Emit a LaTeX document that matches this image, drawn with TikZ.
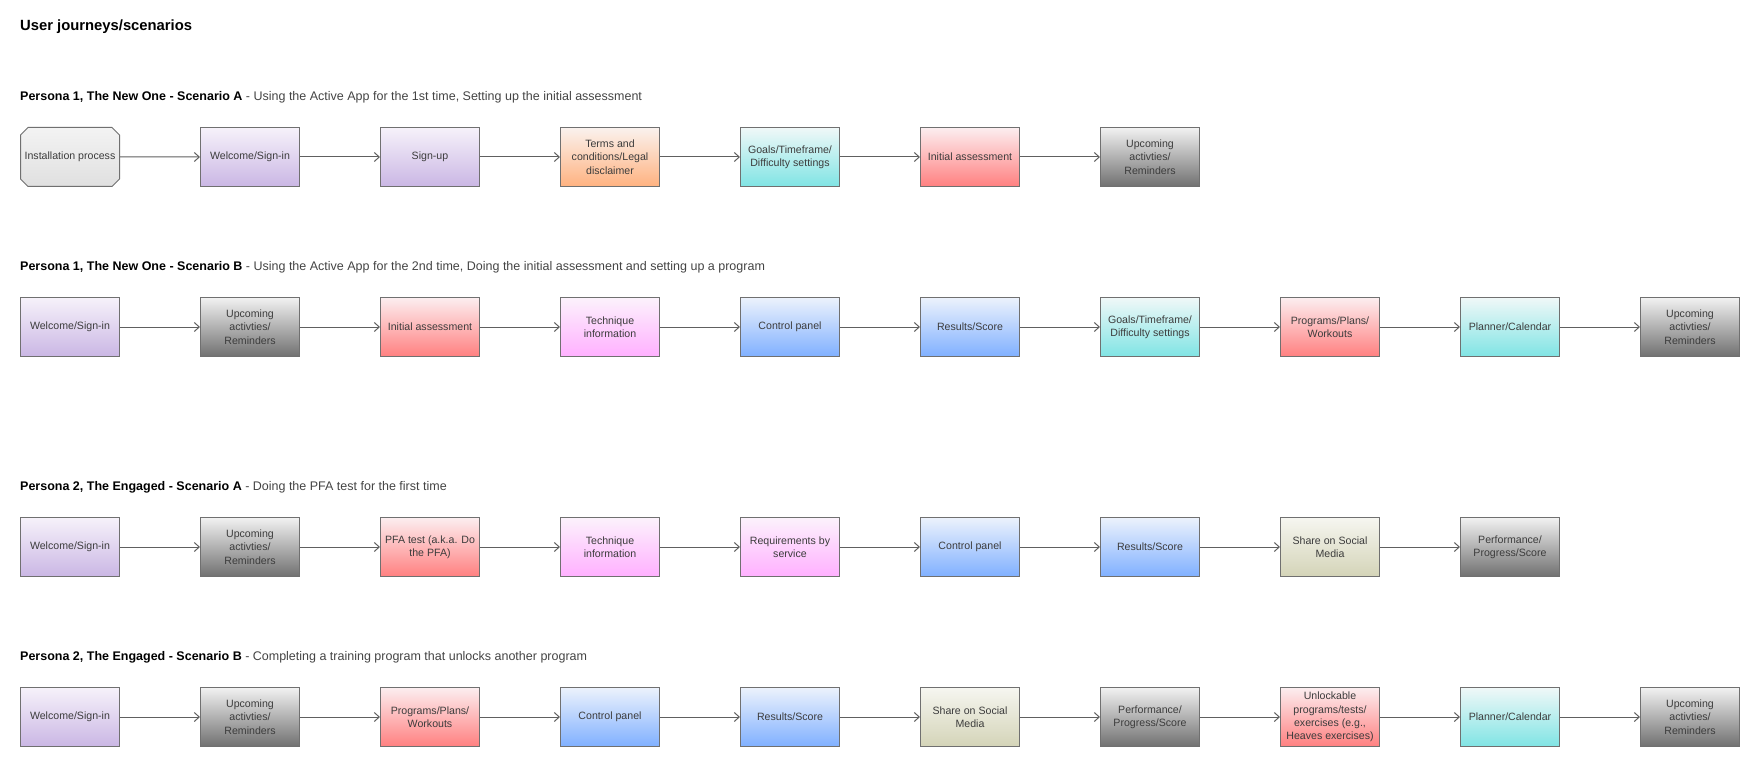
\documentclass[tikz,border=0pt]{standalone}
\usepackage{fontspec}
\setmainfont{Liberation Sans}
\usetikzlibrary{positioning,arrows.meta,shapes.misc}

\definecolor{edge}{RGB}{112,112,112}
\definecolor{txt}{RGB}{60,60,60}
\definecolor{wire}{RGB}{96,96,96}

\begin{document}
\begin{tikzpicture}[
  x=1pt, y=-1pt,
  font=\fontsize{10.6}{13.3}\selectfont,
  every node/.style={align=center, text=txt},
  box/.style  ={rectangle, draw=edge, line width=1pt,
                minimum width=99pt, minimum height=59pt, inner sep=2pt},
  octa/.style ={box, chamfered rectangle, chamfered rectangle xsep=4pt,
                inner xsep=0pt,
                top color={rgb,255:red,243;green,243;blue,243},
                bottom color={rgb,255:red,224;green,224;blue,224}},
  lav/.style  ={box, top color={rgb,255:red,246;green,242;blue,250},
                bottom color={rgb,255:red,202;green,182;blue,228}},
  peach/.style={box, top color={rgb,255:red,250;green,242;blue,238},
                bottom color={rgb,255:red,255;green,178;blue,128}},
  aqua/.style ={box, top color={rgb,255:red,240;green,248;blue,248},
                bottom color={rgb,255:red,128;green,228;blue,228}},
  rose/.style ={box, top color={rgb,255:red,252;green,238;blue,240},
                bottom color={rgb,255:red,255;green,128;blue,128}},
  slate/.style={box, top color={rgb,255:red,242;green,242;blue,242},
                bottom color={rgb,255:red,112;green,112;blue,112}},
  lilac/.style={box, top color={rgb,255:red,252;green,242;blue,252},
                bottom color={rgb,255:red,255;green,176;blue,255}},
  sky/.style  ={box, top color={rgb,255:red,236;green,242;blue,252},
                bottom color={rgb,255:red,128;green,176;blue,255}},
  sand/.style ={box, top color={rgb,255:red,246;green,246;blue,240},
                bottom color={rgb,255:red,212;green,212;blue,184}},
  head/.style ={inner sep=0pt, text={rgb,255:red,68;green,68;blue,68},
                font=\fontsize{12.5}{14}\selectfont},
  arrow/.style={-{Straight Barb[length=5pt,width=9pt]}, line width=1pt, draw=wire},
]
\useasboundingbox (0,0) rectangle (1760,767);

\node[inner sep=0pt, anchor=west, text=black, font=\fontsize{14.8}{16}\bfseries]
     (title) at (20,27) {User journeys/scenarios};

% Persona 1 - Scenario A
\node[octa]                  (a1) at (70,157) {Installation process};
\node[lav,   right=80pt of a1] (a2) {Welcome/Sign-in};
\node[lav,   right=80pt of a2] (a3) {Sign-up};
\node[peach, right=80pt of a3] (a4) {Terms and\\conditions/Legal\\disclaimer};
\node[aqua,  right=80pt of a4] (a5) {Goals/Timeframe/\\Difficulty settings};
\node[rose,  right=80pt of a5] (a6) {Initial assessment};
\node[slate, right=80pt of a6] (a7) {Upcoming\\activties/\\Reminders};
\coordinate (a0) at (a1.north -| a1.west);

% Persona 1 - Scenario B
\node[lav,   below=110pt of a1] (b1) {Welcome/Sign-in};
\node[slate, right=80pt of b1] (b2) {Upcoming\\activties/\\Reminders};
\node[rose,  right=80pt of b2] (b3) {Initial assessment};
\node[lilac, right=80pt of b3] (b4) {Technique\\information};
\node[sky,   right=80pt of b4] (b5) {Control panel};
\node[sky,   right=80pt of b5] (b6) {Results/Score};
\node[aqua,  right=80pt of b6] (b7) {Goals/Timeframe/\\Difficulty settings};
\node[rose,  right=80pt of b7] (b8) {Programs/Plans/\\Workouts};
\node[aqua,  right=80pt of b8] (b9) {Planner/Calendar};
\node[slate, right=80pt of b9] (b10) {Upcoming\\activties/\\Reminders};

% Persona 2 - Scenario A
\node[lav,   below=160pt of b1] (c1) {Welcome/Sign-in};
\node[slate, right=80pt of c1] (c2) {Upcoming\\activties/\\Reminders};
\node[rose,  right=80pt of c2] (c3) {PFA test (a.k.a. Do\\the PFA)};
\node[lilac, right=80pt of c3] (c4) {Technique\\information};
\node[lilac, right=80pt of c4] (c5) {Requirements by\\service};
\node[sky,   right=80pt of c5] (c6) {Control panel};
\node[sky,   right=80pt of c6] (c7) {Results/Score};
\node[sand,  right=80pt of c7] (c8) {Share on Social\\Media};
\node[slate, right=80pt of c8] (c9) {Performance/\\Progress/Score};

% Persona 2 - Scenario B
\node[lav,   below=110pt of c1] (d1) {Welcome/Sign-in};
\node[slate, right=80pt of d1] (d2) {Upcoming\\activties/\\Reminders};
\node[rose,  right=80pt of d2] (d3) {Programs/Plans/\\Workouts};
\node[sky,   right=80pt of d3] (d4) {Control panel};
\node[sky,   right=80pt of d4] (d5) {Results/Score};
\node[sand,  right=80pt of d5] (d6) {Share on Social\\Media};
\node[slate, right=80pt of d6] (d7) {Performance/\\Progress/Score};
\node[rose,  right=80pt of d7] (d8) {Unlockable\\programs/tests/\\exercises (e.g.,\\Heaves exercises)};
\node[aqua,  right=80pt of d8] (d9) {Planner/Calendar};
\node[slate, right=80pt of d9] (d10) {Upcoming\\activties/\\Reminders};

% -------- scenario headings -------------------------------------------------
\node[head, above=30pt of a0, anchor=west] (ha)
     {\textcolor{black}{\bfseries Persona 1, The New One - Scenario A} - Using the Active App for the 1st time, Setting up the initial assessment};
\node[head, above=30pt of b1.north west, anchor=west] (hb)
     {\textcolor{black}{\bfseries Persona 1, The New One - Scenario B} - Using the Active App for the 2nd time, Doing the initial assessment and setting up a program};
\node[head, above=30pt of c1.north west, anchor=west] (hc)
     {\textcolor{black}{\bfseries Persona 2, The Engaged - Scenario A} - Doing the PFA test for the first time};
\node[head, above=30pt of d1.north west, anchor=west] (hd)
     {\textcolor{black}{\bfseries Persona 2, The Engaged - Scenario B} - Completing a training program that unlocks another program};

% -------- arrows -------------------------------------------------------------
\draw[arrow] (a1) -- (a2);
\draw[arrow] (a2) -- (a3);
\draw[arrow] (a3) -- (a4);
\draw[arrow] (a4) -- (a5);
\draw[arrow] (a5) -- (a6);
\draw[arrow] (a6) -- (a7);

\draw[arrow] (b1) -- (b2);
\draw[arrow] (b2) -- (b3);
\draw[arrow] (b3) -- (b4);
\draw[arrow] (b4) -- (b5);
\draw[arrow] (b5) -- (b6);
\draw[arrow] (b6) -- (b7);
\draw[arrow] (b7) -- (b8);
\draw[arrow] (b8) -- (b9);
\draw[arrow] (b9) -- (b10);

\draw[arrow] (c1) -- (c2);
\draw[arrow] (c2) -- (c3);
\draw[arrow] (c3) -- (c4);
\draw[arrow] (c4) -- (c5);
\draw[arrow] (c5) -- (c6);
\draw[arrow] (c6) -- (c7);
\draw[arrow] (c7) -- (c8);
\draw[arrow] (c8) -- (c9);

\draw[arrow] (d1) -- (d2);
\draw[arrow] (d2) -- (d3);
\draw[arrow] (d3) -- (d4);
\draw[arrow] (d4) -- (d5);
\draw[arrow] (d5) -- (d6);
\draw[arrow] (d6) -- (d7);
\draw[arrow] (d7) -- (d8);
\draw[arrow] (d8) -- (d9);
\draw[arrow] (d9) -- (d10);

\end{tikzpicture}
\end{document}
